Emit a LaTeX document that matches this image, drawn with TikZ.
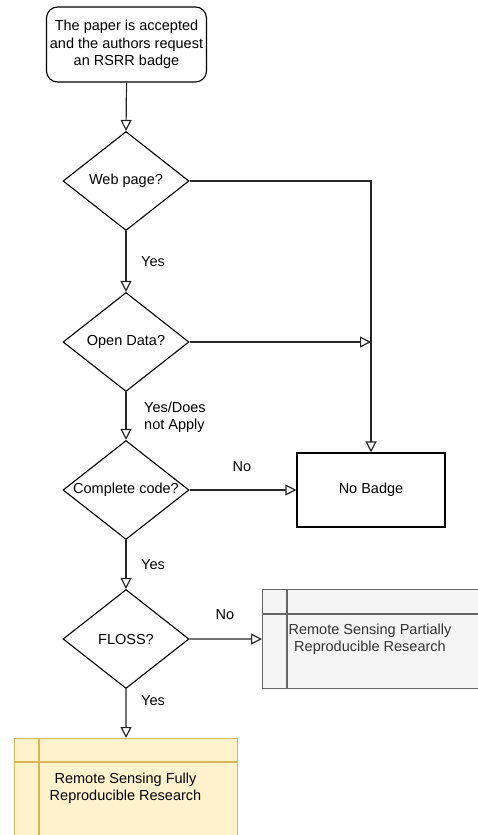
\documentclass[tikz,border=0pt]{standalone}
\usepackage{fontspec}
\setmainfont{Liberation Sans}
\usetikzlibrary{shapes.geometric,arrows.meta}
\definecolor{grayfill}{HTML}{F5F5F5}
\definecolor{graydraw}{HTML}{666666}
\definecolor{graytext}{HTML}{333333}
\definecolor{yelfill}{HTML}{FFF2CC}
\definecolor{yeldraw}{HTML}{D6B656}
\begin{document}
\begin{tikzpicture}[x=1pt,y=-1pt,
  every node/.style={font=\fontsize{14.5}{17.3}\selectfont},
  conn/.style={draw=black!85, line width=1.2pt},
  arr/.style={conn, -{Triangle[open,length=11pt,width=11pt]}},
  dia/.style={diamond, draw=black, line width=1.1pt, minimum width=126pt, minimum height=99pt, inner sep=0pt},
  txt/.style={align=center, inner sep=0pt},
  lbl/.style={align=left, inner sep=0pt, anchor=west},
  swim/.style={draw, line width=1.1pt, anchor=north west, inner sep=0pt},
]
\useasboundingbox (0,0) rectangle (477,835);

\node[draw, rounded corners=11pt, line width=1.1pt, minimum width=160pt, minimum height=75pt, align=center, inner sep=0pt] (start) at (126.5,44.5) {The paper is accepted\\and the authors request\\an RSRR badge};

\node[dia] (web) at (126,181) {};
\node[txt] (webt) at (web.center) {Web page?};
\node[dia] (open) at (126,342) {};
\node[txt] (opent) at (open.center) {Open Data?};
\node[dia] (code) at (126,490) {};
\node[txt] (codet) at (code.center) {Complete code?};
\node[dia] (floss) at (126,639) {};
\node[txt] (flosst) at (floss.center) {FLOSS?};

\node[draw, line width=1.1pt, minimum width=148pt, minimum height=74pt, inner sep=0pt] (nobadge) at (371,490) {No Badge};

\node[swim, draw=graydraw, fill=grayfill, minimum width=216pt, minimum height=99pt] (partial) at (262,589) {};
\draw[graydraw, line width=1.1pt] ([xshift=25pt]partial.north west) -- ([xshift=25pt]partial.south west);
\draw[graydraw, line width=1.1pt] ([yshift=-25pt]partial.north west) -- ([yshift=-25pt]partial.north east);
\node[txt, text=graytext] (partialt) at (370,639.5) {Remote Sensing Partially\\Reproducible Research};

\node[swim, draw=yeldraw, fill=yelfill, minimum width=223pt, minimum height=100pt] (full) at (14,738) {};
\draw[yeldraw, line width=1.1pt] ([xshift=25pt]full.north west) -- ([xshift=25pt]full.south west);
\draw[yeldraw, line width=1.1pt] ([yshift=-24pt]full.north west) -- ([yshift=-24pt]full.north east);
\node[txt] (fullt) at (125.5,788) {Remote Sensing Fully\\Reproducible Research};

\coordinate (corner) at (371,181);
\coordinate (join) at (371,342);

\draw[arr] (start.south) -- (web.north);
\draw[arr] (web.south) -- (open.north);
\draw[arr] (web.east) -- (corner) -- (nobadge.north);
\draw[arr] (open.east) -- (join);
\draw[arr] (open.south) -- (code.north);
\draw[arr] (code.east) -- (nobadge.west);
\draw[arr] (code.south) -- (floss.north);
\draw[arr] (floss.east) -- (partial.west);
\draw[arr] (floss.south) -- (full.north);

\node[lbl] (y1) at (141,262) {Yes};
\node[lbl] (y2) at (144,417) {Yes/Does\\not Apply};
\node[txt] (n1) at (242,467) {No};
\node[lbl] (y3) at (141,565) {Yes};
\node[txt] (n2) at (225,615) {No};
\node[lbl] (y4) at (141,701) {Yes};
\end{tikzpicture}
\end{document}
